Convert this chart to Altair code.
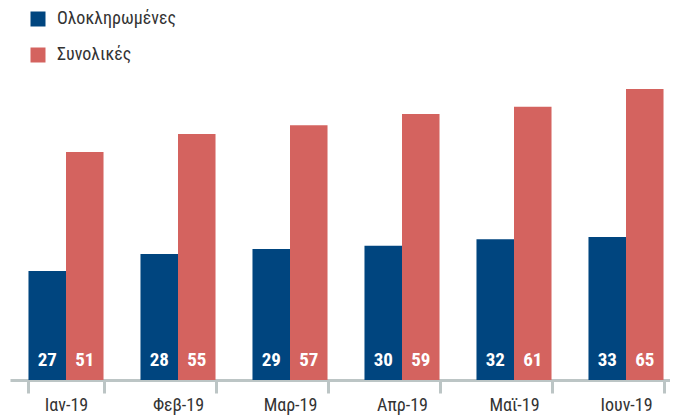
import altair as alt
import pandas as pd

months = ["Ιαν-19", "Φεβ-19", "Μαρ-19", "Απρ-19", "Μαϊ-19", "Ιουν-19"]
series_names = ["Ολοκληρωμένες", "Συνολικές"]
completed_values = [24.4, 28.2, 29.3, 30.0, 31.5, 32.0]
total_values = [51.0, 55.0, 57.0, 59.5, 61.1, 65.1]
completed_labels = ["27", "28", "29", "30", "32", "33"]
total_labels = ["51", "55", "57", "59", "61", "65"]

rows = []
for i, m in enumerate(months):
    rows.append({"month": m, "series": series_names[0], "value": completed_values[i], "label": completed_labels[i]})
    rows.append({"month": m, "series": series_names[1], "value": total_values[i], "label": total_labels[i]})
df = pd.DataFrame(rows)

FONT = "Roboto Condensed, Liberation Sans Narrow, DejaVu Sans Condensed, sans-serif"

x_enc = alt.X(
    "month:N",
    sort=months,
    scale=alt.Scale(paddingInner=0.33, paddingOuter=0.165, range=[0, 672]),
    axis=alt.Axis(
        title=None,
        labelAngle=0,
        labelFontSize=18,
        labelColor="#333333",
        labelFont=FONT,
        labelPadding=3,
        domainColor="#BCC5C5",
        domainWidth=3,
        tickColor="#BCC5C5",
        tickWidth=3,
        tickSize=13,
        tickBand="extent",
    ),
)
xoff = alt.XOffset("series:N", sort=series_names)

bars = alt.Chart(df).mark_bar().encode(
    x=x_enc,
    xOffset=xoff,
    y=alt.Y("value:Q", scale=alt.Scale(domain=[0, 83.2], nice=False), axis=None),
    color=alt.Color(
        "series:N",
        sort=series_names,
        scale=alt.Scale(domain=series_names, range=["#00457F", "#D4635F"]),
        legend=alt.Legend(
            title=None,
            orient="none",
            legendX=19,
            legendY=2,
            symbolType="square",
            symbolSize=225,
            symbolStrokeWidth=0,
            labelFontSize=18,
            labelFont=FONT,
            labelColor="#333333",
            labelOffset=10,
            rowPadding=18,
        ),
    ),
)

texts = alt.Chart(df).mark_text(
    color="white", fontSize=19, fontWeight="bold", font=FONT, baseline="alphabetic", align="center"
).encode(
    x=alt.X("month:N", sort=months),
    xOffset=xoff,
    y=alt.value(358),
    text="label:N",
)

chart = alt.layer(bars, texts).properties(
    width=660,
    height=372,
    padding={"left": 2, "top": 0, "right": 0, "bottom": 39},
    autosize=alt.AutoSizeParams(type="none"),
).configure_view(stroke=None)

chart.save("out.html", embed_options={"renderer": "svg", "actions": False})
